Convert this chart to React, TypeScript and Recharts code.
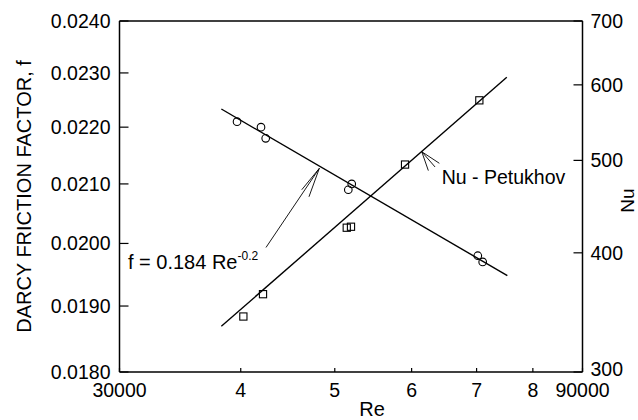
import React from "react";
import {
  ComposedChart,
  Scatter,
  XAxis,
  YAxis,
  ReferenceLine,
  ReferenceDot,
} from "recharts";

const FONT = "'Liberation Sans', Arial, Helvetica, sans-serif";

// Measured Darcy friction factor
const frictionRe = [39650, 41970, 42440, 51630, 52050, 70200, 71020];
const frictionF = [0.0221, 0.022, 0.0218, 0.0209, 0.021, 0.0198, 0.0197];

// Measured Nusselt number
const nusseltRe = [40250, 42170, 51440, 51960, 59070, 70460];
const nusseltNu = [343, 362, 425, 426, 495, 578];

// Correlation lines: f = 0.184 Re^-0.2 and Petukhov Nu
const fCorrRe = [38200, 75300];
const fCorr = [0.02233, 0.01948];
const nuCorrRe = [38200, 75200];
const nuCorr = [335, 611];

// Axis ticks
const reTicks = [30000, 40000, 50000, 60000, 70000, 80000, 90000];
const fTicks = [0.018, 0.019, 0.02, 0.021, 0.022, 0.023, 0.024];
const nuTicks = [300, 400, 500, 600, 700];

const toPoints = (xs: number[], ys: number[]) =>
  xs.map((re, i) => ({ re, y: ys[i] }));

const frictionPts = toPoints(frictionRe, frictionF);
const nusseltPts = toPoints(nusseltRe, nusseltNu);
const fCorrPts = toPoints(fCorrRe, fCorr);
const nuCorrPts = toPoints(nuCorrRe, nuCorr);

const TICK_FS = 19.5;
const LEFT_GAP = 9;
const RIGHT_GAP = 8;
const BOTTOM_GAP = 11;

const reLabel = (v: number) =>
  v === 30000 || v === 90000 ? String(v) : String(v / 10000);

// Tick renderers drawing inward tick marks plus the label
const LeftTick = (p: any) => {
  const ax = p.x + LEFT_GAP;
  return (
    <g>
      <line x1={ax} x2={ax + 9} y1={p.y} y2={p.y} stroke="#000" strokeWidth={1.2} />
      <text x={p.x} y={p.y} dy="0.36em" textAnchor="end" fontSize={TICK_FS} fontFamily={FONT} fill="#000">
        {Number(p.payload.value).toFixed(4)}
      </text>
    </g>
  );
};

const RightTick = (p: any) => {
  const ax = p.x - RIGHT_GAP;
  // the bottom label sits a little higher so it clears the Re tick labels
  const lift = p.index === 0 ? -3 : 0;
  return (
    <g>
      <line x1={ax - 9} x2={ax} y1={p.y} y2={p.y} stroke="#000" strokeWidth={1.2} />
      <text x={p.x} y={p.y + lift} dy="0.36em" textAnchor="start" fontSize={TICK_FS} fontFamily={FONT} fill="#000">
        {p.payload.value}
      </text>
    </g>
  );
};

const BottomTick = (p: any) => {
  const ay = p.y - BOTTOM_GAP;
  return (
    <g>
      <line x1={p.x} x2={p.x} y1={ay - 4} y2={ay} stroke="#000" strokeWidth={1.2} />
      <text x={p.x} y={p.y} dy="0.72em" textAnchor="middle" fontSize={TICK_FS} fontFamily={FONT} fill="#000">
        {reLabel(p.payload.value)}
      </text>
    </g>
  );
};

const OpenCircle = (p: any) => (
  <circle cx={p.cx} cy={p.cy} r={3.8} fill="none" stroke="#000" strokeWidth={1.1} />
);

const OpenSquare = (p: any) => (
  <rect x={p.cx - 3.6} y={p.cy - 3.6} width={7.2} height={7.2} fill="none" stroke="#000" strokeWidth={1.1} />
);

const NoMarker = () => <g />;

const lineStyle = { stroke: "#000", strokeWidth: 1.4 };
const arrowStyle = { stroke: "#000", strokeWidth: 0.9 };

export default function App() {
  return (
    <div style={{ position: "absolute", left: 0, top: 0, background: "#fff" }}>
      <ComposedChart
        width={638}
        height={420}
        margin={{ top: 21, right: 0, bottom: 0, left: 0 }}
      >
        <XAxis
          type="number"
          dataKey="re"
          scale="log"
          domain={[30000, 90000]}
          allowDataOverflow
          ticks={reTicks}
          interval={0}
          height={48}
          tickSize={0}
          tickMargin={BOTTOM_GAP}
          tickLine={false}
          tick={<BottomTick />}
          axisLine={{ stroke: "#000", strokeWidth: 1.5 }}
          label={(props: any) => {
            const vb = props.viewBox;
            return (
              <text x={vb.x + vb.width / 2 + 21} y={vb.y + 44} textAnchor="middle" fontSize={20} fontFamily={FONT} fill="#000">
                Re
              </text>
            );
          }}
        />
        <YAxis
          yAxisId="f"
          type="number"
          dataKey="y"
          scale="log"
          domain={[0.018, 0.024]}
          allowDataOverflow
          ticks={fTicks}
          interval={0}
          width={119.5}
          tickSize={0}
          tickMargin={LEFT_GAP}
          tickLine={false}
          tick={<LeftTick />}
          axisLine={{ stroke: "#000", strokeWidth: 1.5 }}
          label={(props: any) => {
            const vb = props.viewBox;
            const cy = vb.y + vb.height / 2;
            return (
              <text x={24} y={cy} transform={`rotate(-90 24 ${cy})`} dy="0.36em" textAnchor="middle" fontSize={20} fontFamily={FONT} fill="#000">
                DARCY FRICTION FACTOR, f
              </text>
            );
          }}
        />
        <YAxis
          yAxisId="nu"
          orientation="right"
          type="number"
          dataKey="y"
          scale="log"
          domain={[300, 700]}
          allowDataOverflow
          ticks={nuTicks}
          interval={0}
          width={55.5}
          tickSize={0}
          tickMargin={RIGHT_GAP}
          tickLine={false}
          tick={<RightTick />}
          axisLine={{ stroke: "#000", strokeWidth: 1.5 }}
          label={(props: any) => {
            const vb = props.viewBox;
            const cy = vb.y + vb.height / 2 + 4;
            return (
              <text x={628} y={cy} transform={`rotate(-90 628 ${cy})`} dy="0.34em" textAnchor="middle" fontSize={19} fontFamily={FONT} fill="#000">
                Nu
              </text>
            );
          }}
        />

        {/* top frame */}
        <ReferenceLine yAxisId="f" y={0.024} stroke="#000" strokeWidth={1.5} />

        {/* correlation lines */}
        <Scatter yAxisId="f" data={fCorrPts} line={lineStyle} shape={NoMarker} isAnimationActive={false} />
        <Scatter yAxisId="nu" data={nuCorrPts} line={lineStyle} shape={NoMarker} isAnimationActive={false} />

        {/* measurements */}
        <Scatter yAxisId="f" data={frictionPts} shape={OpenCircle} isAnimationActive={false} />
        <Scatter yAxisId="nu" data={nusseltPts} shape={OpenSquare} isAnimationActive={false} />

        {/* arrow to the friction-factor correlation */}
        <ReferenceLine yAxisId="f" segment={[{ x: 42470, y: 0.019934 }, { x: 48200, y: 0.02127 }]} {...arrowStyle} />
        <ReferenceLine yAxisId="f" segment={[{ x: 46230, y: 0.0209 }, { x: 48200, y: 0.02127 }]} {...arrowStyle} />
        <ReferenceLine yAxisId="f" segment={[{ x: 47030, y: 0.02078 }, { x: 48200, y: 0.02127 }]} {...arrowStyle} />
        <ReferenceDot
          yAxisId="f"
          x={30610}
          y={0.019585}
          shape={(p: any) => (
            <text x={p.cx} y={p.cy} fontSize={20} fontFamily={FONT} fill="#000">
              f = 0.184 Re
              <tspan dy={-9} fontSize={12}>-0.2</tspan>
            </text>
          )}
        />

        {/* arrow to the Petukhov line */}
        <ReferenceLine yAxisId="nu" segment={[{ x: 64080, y: 496.5 }, { x: 61460, y: 510.6 }]} {...arrowStyle} />
        <ReferenceLine yAxisId="nu" segment={[{ x: 63430, y: 492.1 }, { x: 61460, y: 510.6 }]} {...arrowStyle} />
        <ReferenceLine yAxisId="nu" segment={[{ x: 62430, y: 487.8 }, { x: 61460, y: 510.6 }]} {...arrowStyle} />
        <ReferenceDot
          yAxisId="nu"
          x={64440}
          y={472.4}
          shape={(p: any) => (
            <text x={p.cx} y={p.cy} fontSize={19.5} fontFamily={FONT} fill="#000">
              Nu - Petukhov
            </text>
          )}
        />
      </ComposedChart>
    </div>
  );
}
